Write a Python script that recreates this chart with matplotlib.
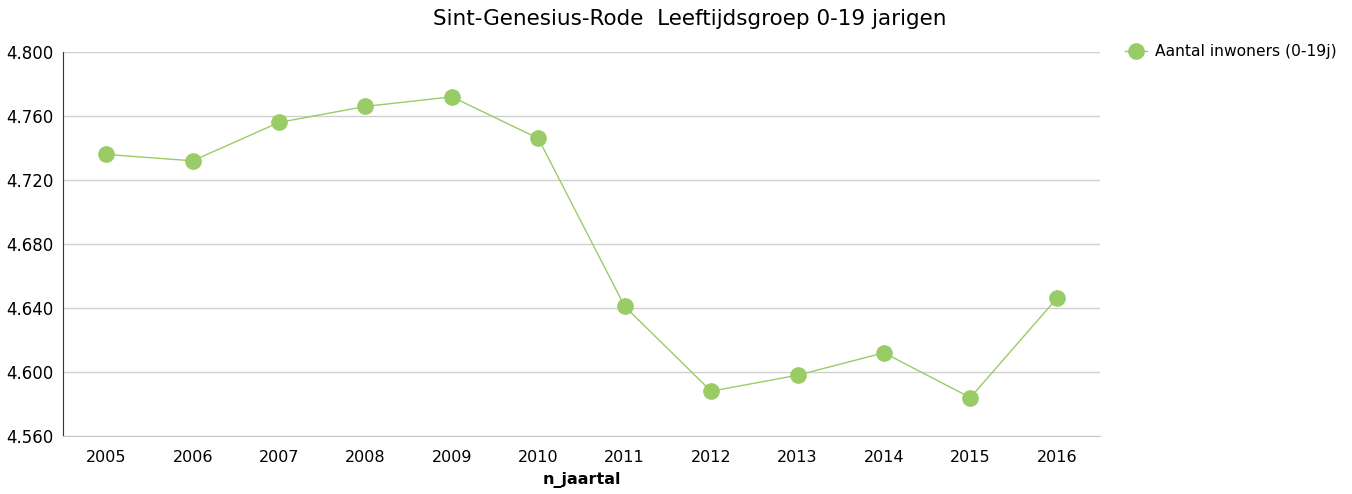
import matplotlib.pyplot as plt
from matplotlib.lines import Line2D

# --- DATA --- #

jaren = ['2005', '2006', '2007', '2008', '2009', '2010',
         '2011', '2012', '2013', '2014', '2015', '2016']
inwoners = [4.736, 4.732, 4.756, 4.766, 4.772, 4.746,
            4.641, 4.588, 4.598, 4.612, 4.584, 4.646]
yticks = [4.560, 4.600, 4.640, 4.680, 4.720, 4.760, 4.800]

groen = '#99cc66'

fig = plt.figure(figsize=(13.52, 4.94), dpi=100)
ax = fig.add_axes([0.0466, 0.1174, 0.767, 0.7773])

x = list(range(len(jaren)))
ax.plot(x, inwoners, color=groen, lw=1, marker='o', ms=11, mec=groen, mfc=groen, zorder=3)

ax.set_xlim(-0.5, len(jaren) - 0.5)
ax.set_ylim(4.560, 4.800)
ax.set_xticks(x)
ax.set_xticklabels(jaren, fontsize=11.5)
ax.set_yticks(yticks)
ax.set_yticklabels(['%.3f' % v for v in yticks], fontsize=12)
ax.tick_params(length=0, pad=7)
ax.tick_params(axis='x', pad=10)

ax.grid(axis='y', color='#d0d0d0', lw=1)
ax.set_axisbelow(True)
for s in ['top', 'right']:
    ax.spines[s].set_visible(False)
ax.spines['left'].set_color('#333333')
ax.spines['bottom'].set_color('#c8c8c8')

ax.set_xlabel('n_jaartal', fontsize=11.5, fontweight='bold', labelpad=5)
fig.text(0.51, 0.962, 'Sint-Genesius-Rode  Leeftijdsgroep 0-19 jarigen',
         ha='center', va='center', fontsize=15.5)

handle = Line2D([], [], color=groen, lw=1, marker='o', ms=11, mec=groen, mfc=groen)
fig.legend([handle], ['Aantal inwoners (0-19j)'], loc='center left',
           bbox_to_anchor=(0.822, 0.895), frameon=False, fontsize=11.2,
           handlelength=1.4, handletextpad=0.5)

fig.savefig('out.png', dpi=100)
